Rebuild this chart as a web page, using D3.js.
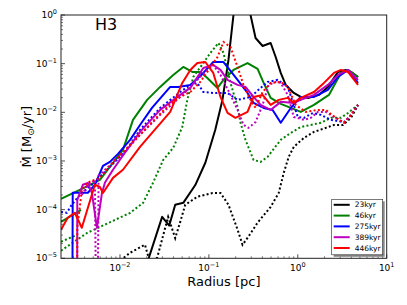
<!DOCTYPE html>
<meta charset="utf-8">
<style>
body { margin: 0; background: #fff; }
svg { display: block; font-family: "DejaVu Sans", sans-serif; }
</style>
<body>
<div id="chart"></div>
<script src="https://d3js.org/d3.v7.min.js"></script>
<script>

// radius [pc], Mdot [Msun/yr] (null = break in the line)
var s23 = [[0.0202,8e-6],[0.0298,7.1e-5],[0.0358,4.7e-5],[0.0418,1.26e-4],[0.0515,1.38e-4],[0.0703,3.2e-4],[0.0912,9.2e-4],[0.118,4.4e-3],[0.142,0.018],[0.166,0.119],[0.189,1.0],[0.21,4],[0.26,3],[0.294,1.0],[0.335,0.337],[0.402,0.231],[0.495,0.266],[0.564,0.137],[0.643,0.0645],[0.731,0.0366],[0.901,0.025],[1.08,0.0207],[1.33,0.0198],[1.73,0.0228],[2.18,0.0333],[2.83,0.0676],[3.48,0.0743],[3.97,0.0676],[4.76,0.0533]];
var d23 = [[0.00925,8e-6],[0.013,1.3e-5],[0.0191,1.9e-5],[0.0218,8e-6],[0.0262,1.03e-5],[0.0348,7.1e-5],[0.0418,2.6e-5],[0.0476,5.6e-5],[0.0542,1.26e-4],[0.0741,1.84e-4],[0.11,2.2e-4],[0.135,2.2e-4],[0.166,1.26e-4],[0.21,3.9e-5],[0.239,1.9e-5],[0.279,2.8e-5],[0.353,5.4e-5],[0.495,1.14e-4],[0.61,2.2e-4],[0.695,5.7e-4],[0.791,1.22e-3],[0.901,1.95e-3],[1.17,2.98e-3],[1.52,3.96e-3],[2.07,4.8e-3],[2.55,5.5e-3],[3.22,5.5e-3],[3.97,7.7e-3],[4.76,0.0142]];

var s46 = [[0.00217,5.6e-5],[0.00365,9.9e-5],null,[0.00217,1.67e-4],[0.00353,2.55e-4],[0.00594,4.1e-4],[0.0108,1.69e-3],[0.014,7.0e-3],[0.0202,0.018],[0.0283,0.0333],[0.0397,0.0587],[0.0515,0.0855],[0.0651,0.0676],[0.0801,0.0676],[0.0961,0.0509],[0.125,0.0317],[0.146,0.0463],[0.189,0.0743],[0.272,0.103],[0.353,0.0779],[0.413,0.0402],[0.495,0.0198],[0.643,0.0149],[0.834,0.0123],[1.08,0.0102],[1.52,0.0142],[2.24,0.0228],[2.69,0.0421],[3.06,0.0645],[3.67,0.0743],[4.76,0.0533]];
var d46 = [[0.00217,2.19e-5],[0.00328,3.04e-5],null,[0.00217,1.43e-5],[0.00424,3.3e-5],[0.013,8.6e-5],[0.0182,1.38e-4],[0.0236,3.6e-4],[0.0306,1.05e-3],[0.0397,1.86e-3],[0.0502,5.0e-3],[0.0571,0.018],[0.0668,0.0533],[0.0866,0.103],[0.104,0.166],[0.128,0.266],[0.146,0.166],[0.175,0.0402],[0.21,0.0129],[0.227,6.1e-3],[0.258,2.7e-3],[0.318,1.05e-3],[0.382,9.6e-4],[0.458,1.22e-3],[0.643,2.72e-3],[0.834,3.78e-3],[1.08,5.0e-3],[1.4,5.5e-3],[1.82,6.1e-3],[2.36,7.7e-3],[3.06,7.7e-3],[3.67,9.7e-3],[4.76,0.0142]];

var s275 = [[0.0029,1e-7],[0.00294,2.22e-4],[0.00435,2.22e-4],[0.00522,3.24e-4],[0.00643,7.9e-4],[0.00771,9.6e-4],[0.00949,1.4e-3],[0.013,2.72e-3],[0.0168,5.5e-3],[0.0229,0.0123],[0.0367,0.0333],[0.0452,0.0333],[0.0618,0.0366],[0.0866,0.0645],[0.112,0.108],[0.146,0.108],[0.175,0.0707],[0.21,0.0463],[0.272,0.025],[0.318,0.0156],[0.413,0.0123],[0.521,0.0112],[0.643,6.1e-3],[0.834,0.0123],[1.08,0.0207],[1.52,0.0207],[2.18,0.0289],[2.83,0.0533],[3.67,0.0743],[4.76,0.0402]];
var d275 = [[0.00217,9.0e-5],[0.00252,8.6e-5],[0.00287,1.26e-4],[0.00353,2.0e-4],[0.00483,3.24e-4],[0.00713,6.6e-4],[0.0114,1.54e-3],[0.0168,4.36e-3],[0.0283,0.0123],[0.0476,0.0262],[0.0618,0.0366],[0.0741,0.0402],[0.0866,0.0262],[0.112,0.025],[0.162,0.025],[0.21,0.018],[0.294,0.0207],[0.382,0.0317],[0.458,0.0421],[0.594,0.0463],[0.771,0.0333],[1.0,8.05e-3],[1.17,7.7e-3],[1.48,9.7e-3],[1.82,8.85e-3],[2.36,7.0e-3],[3.31,6.3e-3],[3.97,8.85e-3],[4.76,0.0142]];

var s389 = [[0.00329,1e-7],[0.00331,1.59e-4],[0.00382,3.24e-4],[0.00435,3.56e-4],[0.00483,2.22e-4],[0.0055,4.24e-5],[0.00627,2.2e-4],[0.00678,3.6e-4],[0.00834,6.6e-4],[0.01055,1.22e-3],[0.0168,3.96e-3],[0.0283,0.0112],[0.0476,0.0228],[0.0618,0.0317],[0.0866,0.0816],[0.112,0.094],[0.135,0.0743],[0.162,0.0463],[0.21,0.0366],[0.258,0.0333],[0.318,0.0207],[0.382,0.0142],[0.495,0.0112],[0.643,0.0164],[0.901,0.0156],[1.08,0.018],[1.52,0.0228],[2.18,0.0366],[2.83,0.0587],[3.67,0.0743],[4.76,0.0463]];
var d389 = [[0.00372,2.0e-4],[0.00435,3.2e-4],[0.00522,4.1e-4],[0.0055,1e-8],[0.00575,5.0e-4],[0.00713,7.2e-4],[0.0108,1.4e-3],[0.0168,3.44e-3],[0.0283,8.85e-3],[0.0476,0.0207],[0.0741,0.0463],[0.0961,0.0743],[0.112,0.094],[0.135,0.0587],[0.175,0.0228],[0.21,0.0112],[0.245,5.5e-3],[0.279,4.8e-3],[0.335,6.3e-3],[0.402,0.0142],[0.47,0.0366],[0.564,0.0421],[0.643,0.0402],[0.771,0.0228],[0.901,8.05e-3],[1.17,7.0e-3],[1.4,7.7e-3],[1.68,0.0102],[2.07,0.0102],[2.55,8.05e-3],[3.31,6.1e-3],[3.97,8.85e-3],[4.76,0.0142]];

var s446 = [[0.00217,3.85e-5],[0.00258,6.8e-5],[0.0031,8.6e-5],[0.00372,4.24e-5],[0.00522,3.24e-4],[0.00594,2.94e-4],[0.00643,2.2e-4],[0.00834,4.5e-4],[0.0108,6.6e-4],[0.0168,1.95e-3],[0.0367,0.0102],[0.0502,0.0402],[0.0618,0.0743],[0.0741,0.103],[0.0912,0.108],[0.112,0.0645],[0.135,0.0207],[0.162,9.7e-3],[0.199,7.7e-3],[0.272,0.0102],[0.318,0.0207],[0.402,0.0228],[0.495,0.0142],[0.61,0.018],[0.771,0.0198],[0.901,0.0156],[1.08,0.0198],[1.52,0.0262],[1.97,0.0402],[2.55,0.0645],[3.06,0.0743],[3.67,0.0676],[4.76,0.0366]];
var d446 = [[0.00329,1e-7],[0.00331,4.2e-5],[0.00372,2.55e-4],[0.00435,3.6e-4],[0.00594,4.5e-4],[0.00879,1.05e-3],[0.012,1.86e-3],[0.0168,3.44e-3],[0.0262,8.05e-3],[0.0367,0.0149],[0.0476,0.0207],[0.0618,0.0262],[0.0801,0.0421],[0.0961,0.0676],[0.125,0.137],[0.146,0.279],[0.175,0.22],[0.21,0.0855],[0.245,0.0366],[0.294,0.018],[0.335,0.0123],[0.402,0.0262],[0.495,0.0402],[0.643,0.0421],[0.771,0.0333],[0.948,0.0142],[1.23,0.0102],[1.68,0.0112],[2.07,0.0112],[2.42,8.85e-3],[3.31,6.1e-3],[3.97,8.85e-3],[4.76,0.0142]];

var labels = ['23kyr', '46kyr', '275kyr', '389kyr', '446kyr'];
var colors = ['#000000', '#008000', '#0000ff', '#bf00bf', '#ff0000'];
var solid = [s23, s46, s275, s389, s446];
var dotted = [d23, d46, d275, d389, d446];

var xTicks = [1e-2, 1e-1, 1e0, 1e1];
var xTickExp = ['\u22122', '\u22121', '0', '1'];
var yTicks = [1e-5, 1e-4, 1e-3, 1e-2, 1e-1, 1e0];
var yTickExp = ['\u22125', '\u22124', '\u22123', '\u22122', '\u22121', '0'];

var W = 407, H = 305;
var margin = {top: 15, right: 20.3, bottom: 46.7, left: 61};
var width = W - margin.left - margin.right,
    height = H - margin.top - margin.bottom;

var svg = d3.select('#chart').append('svg')
  .attr('width', W).attr('height', H);

var g = svg.append('g')
  .attr('transform', 'translate(' + margin.left + ',' + margin.top + ')');

var x = d3.scaleLog().domain([0.00217, 10]).range([0, width]);
var y = d3.scaleLog().domain([1e-5, 1]).range([height, 0]);

g.append('clipPath').attr('id', 'clip')
  .append('rect').attr('width', width).attr('height', height);

var line = d3.line()
  .defined(function(d){ return d != null; })
  .x(function(d){ return x(d[0]); })
  .y(function(d){ return y(d[1]); });

var plot = g.append('g').attr('clip-path', 'url(#clip)');

for (var i = 0; i < 5; i++) {
  plot.append('path').datum(solid[i])
    .attr('d', line).attr('fill', 'none')
    .attr('stroke', colors[i]).attr('stroke-width', 2)
    .attr('stroke-linejoin', 'round');
  plot.append('path').datum(dotted[i])
    .attr('d', line).attr('fill', 'none')
    .attr('stroke', colors[i]).attr('stroke-width', 2)
    .attr('stroke-dasharray', '2,2.3');
}

// minor ticks
var xMinor = [], yMinor = [];
for (var e = -3; e <= 0; e++) {
  for (var k = 2; k <= 9; k++) {
    var v = k * Math.pow(10, e);
    if (v > 0.00217 && v < 10) xMinor.push(v);
  }
}
for (var e2 = -5; e2 < 0; e2++) {
  for (var k2 = 2; k2 <= 9; k2++) yMinor.push(k2 * Math.pow(10, e2));
}

var axisColor = '#222';

g.selectAll('.xmaj').data(xTicks).enter().append('line')
  .attr('x1', function(d){ return x(d); }).attr('x2', function(d){ return x(d); })
  .attr('y1', height).attr('y2', height - 4)
  .attr('stroke', axisColor).attr('stroke-width', 0.8);
g.selectAll('.xmin').data(xMinor).enter().append('line')
  .attr('x1', function(d){ return x(d); }).attr('x2', function(d){ return x(d); })
  .attr('y1', height).attr('y2', height - 2)
  .attr('stroke', axisColor).attr('stroke-width', 0.6);
g.selectAll('.ymaj').data(yTicks).enter().append('line')
  .attr('y1', function(d){ return y(d); }).attr('y2', function(d){ return y(d); })
  .attr('x1', 0).attr('x2', 4)
  .attr('stroke', axisColor).attr('stroke-width', 0.8);
g.selectAll('.ymin').data(yMinor).enter().append('line')
  .attr('y1', function(d){ return y(d); }).attr('y2', function(d){ return y(d); })
  .attr('x1', 0).attr('x2', 2)
  .attr('stroke', axisColor).attr('stroke-width', 0.6);

// frame
g.append('rect').attr('width', width).attr('height', height)
  .attr('fill', 'none').attr('stroke', axisColor).attr('stroke-width', 1);

// tick labels
var xl = g.selectAll('.xlab').data(xTicks).enter().append('text')
  .attr('x', function(d){ return x(d); }).attr('y', height + 13)
  .attr('text-anchor', 'middle').attr('font-size', 9).attr('fill', '#000');
xl.append('tspan').text('10');
xl.append('tspan').attr('dy', -4).attr('font-size', 6.5)
  .text(function(d, i){ return xTickExp[i]; });

var yl = g.selectAll('.ylab').data(yTicks).enter().append('text')
  .attr('x', -4).attr('y', function(d){ return y(d) + 3; })
  .attr('text-anchor', 'end').attr('font-size', 9).attr('fill', '#000');
yl.append('tspan').text('10');
yl.append('tspan').attr('dy', -4).attr('font-size', 6.5)
  .text(function(d, i){ return yTickExp[i]; });

// axis titles
g.append('text').attr('x', width / 2).attr('y', height + 28)
  .attr('text-anchor', 'middle').attr('font-size', 13).text('Radius [pc]');

var yt = svg.append('text')
  .attr('transform', 'translate(31,' + (margin.top + height / 2) + ') rotate(-90)')
  .attr('text-anchor', 'middle').attr('font-size', 13);
yt.append('tspan').text('\u1E40 [M');
yt.append('tspan').attr('font-size', 9).attr('dy', 3).text('\u2299');
yt.append('tspan').attr('dy', -3).text('/yr]');

g.append('text').attr('x', 34).attr('y', 15).attr('font-size', 16).text('H3');

// legend
var lg = g.append('g').attr('transform', 'translate(' + (width - 55) + ',' + (height - 59) + ')');
lg.append('rect').attr('x', 2).attr('y', 2).attr('width', 51).attr('height', 55.5).attr('fill', '#888');
lg.append('rect').attr('width', 51).attr('height', 55.5).attr('fill', '#fff')
  .attr('stroke', '#222').attr('stroke-width', 0.6);
labels.forEach(function(t, i) {
  var yy = 5.5 + i * 10.8;
  lg.append('line').attr('x1', 2).attr('x2', 18).attr('y1', yy).attr('y2', yy)
    .attr('stroke', colors[i]).attr('stroke-width', 2);
  lg.append('text').attr('x', 23).attr('y', yy + 2.6).attr('font-size', 7.5).text(t);
});

</script>
</body>
